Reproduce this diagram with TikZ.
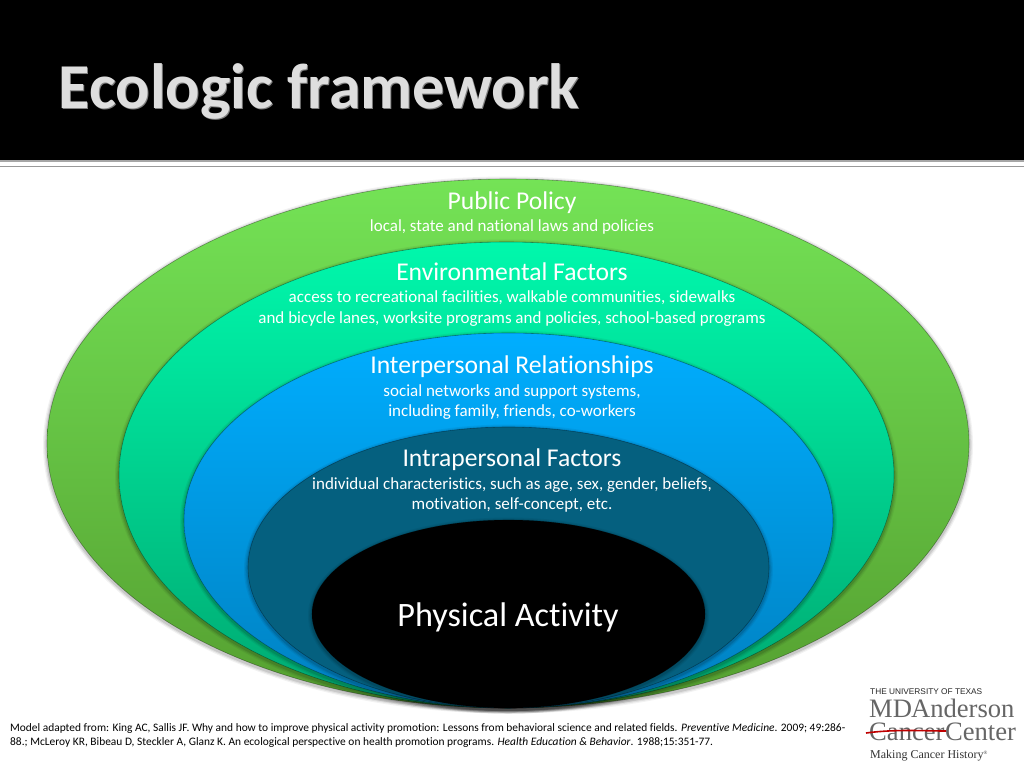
\documentclass[tikz,border=0pt]{standalone}
\usepackage{fontspec}
\setmainfont{Carlito}[Ligatures=NoCommon]
\usetikzlibrary{shapes.geometric}
\definecolor{gA}{HTML}{74E356}\definecolor{gB}{HTML}{559F30}
\definecolor{tA}{HTML}{00F8AC}\definecolor{tB}{HTML}{00A870}
\definecolor{bA}{HTML}{00AEFF}\definecolor{bB}{HTML}{0080C0}
\definecolor{dA}{HTML}{05607F}
\newcommand{\softshadow}[4]{%
 \foreach \o/\g in {.05/4,.07/2.8,.1/1.6}{%
  \fill[black,opacity=\o] (#1,#2+1.5) ellipse [x radius=#3+\g,y radius=#4+\g];}}
\tikzset{
 oval/.style={ellipse,inner sep=0pt,outer sep=0pt,draw=black,draw opacity=.35,line width=.6pt},
 head/.style={text=white,font=\fontsize{25.6}{28}\selectfont,inner sep=0pt,anchor=center},
 sub/.style={text=white,font=\fontsize{17}{20.5}\selectfont,inner sep=0pt,align=center,anchor=center},
 ttl/.style={font=\fontsize{64}{66}\selectfont\bfseries,inner sep=0pt,anchor=base west},
 logoserif/.style={font=\fontsize{26.6}{22.5}\fontspec{Liberation Serif}\selectfont,text=black!60,inner sep=0pt,anchor=west,align=left},
}
\begin{document}
\begin{tikzpicture}[x=1pt,y=-1pt]
\useasboundingbox (0,0) rectangle (1024,768);
\fill[white] (0,0) rectangle (1024,768);
\fill[black] (0,0) rectangle (1024,160);
\fill[black!35] (0,160) rectangle (1024,161.5);
\fill[black!40] (0,165.5) rectangle (1024,167);
\softshadow{508}{443.5}{461}{264.5}
\node[oval,minimum width=922pt,minimum height=529pt,top color=gA,bottom color=gB] (e1) at (508,443.5) {};
\softshadow{506.5}{475}{387.5}{233}
\node[oval,minimum width=775pt,minimum height=466pt,top color=tA,bottom color=tB] (e2) at (506.5,475) {};
\softshadow{508.5}{520.5}{324.5}{187.5}
\node[oval,minimum width=649pt,minimum height=375pt,top color=bA,bottom color=bB] (e3) at (508.5,520.5) {};
\softshadow{508.5}{567.5}{260.5}{140.5}
\node[oval,minimum width=521pt,minimum height=281pt,fill=dA] (e4) at (508.5,567.5) {};
\softshadow{508.5}{614}{196.5}{94}
\node[oval,minimum width=393pt,minimum height=188pt,fill=black,draw=black] (e5) at (508.5,614) {};
\node[head] (h1) at (512,202.5) {Public Policy};
\node[sub] (s1) at (512,227) {local, state and national laws and policies};
\node[head] (h2) at (512,271.5) {Environmental Factors};
\node[sub] (s2) at (512,308.5) {access to recreational facilities, walkable communities, sidewalks\\and bicycle lanes, worksite programs and policies, school-based programs};
\node[head] (h3) at (512,366.5) {Interpersonal Relationships};
\node[sub] (s3) at (512,402) {social networks and support systems,\\including family, friends, co-workers};
\node[head] (h4) at (512,460) {Intrapersonal Factors};
\node[sub] (s4) at (512,495) {individual characteristics, such as age, sex, gender, beliefs,\\motivation, self-concept, etc.};
\node[text=white,font=\fontsize{34.2}{38}\selectfont,inner sep=0pt] (pa) at (508,617.5) {Physical Activity};
\node[ttl,text=black!50] (ts) at (59.5,109) {Ecologic framework};
\node[ttl,text=black!13] (t) at (58.5,108) {Ecologic framework};
\node[font=\fontsize{11.42}{14.5}\selectfont,inner sep=0pt,align=left,anchor=north west] (ref) at (10,723) {Model adapted from: King AC, Sallis JF. Why and how to improve physical activity promotion: Lessons from behavioral science and related fields. \textit{Preventive Medicine}. 2009; 49:286-\\88.; McLeroy KR, Bibeau D, Steckler A, Glanz K. An ecological perspective on health promotion programs. \textit{Health Education \& Behavior}. 1988;15:351-77.};
% logo
\node[font=\fontsize{8.3}{9}\fontspec{Liberation Sans}\selectfont,text=black!85,inner sep=0pt,anchor=west] (l1) at (870,692) {THE UNIVERSITY OF TEXAS};
\node[logoserif] (l2) at (869,720) {MD\kern-1pt Anderson\\Cancer\kern.5pt Center};
\draw[red!75!black,line width=1.6pt] (866,733) .. controls (895,729) and (925,731) .. (946,731);
\node[font=\fontsize{12}{13}\fontspec{Liberation Serif}\selectfont,text=black!80,inner sep=0pt,anchor=west] (l4) at (870,756) {Making Cancer History\textsuperscript{\tiny ®}};
\end{tikzpicture}
\end{document}
